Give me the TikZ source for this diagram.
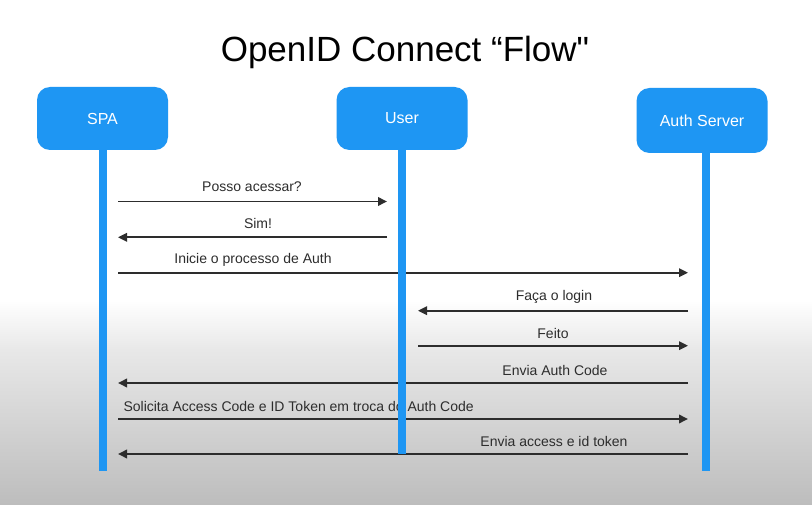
\documentclass[tikz,border=0pt]{standalone}
\usepackage{fontspec}
\setmainfont{Liberation Sans}
\newfontfamily\titlefont{Liberation Sans}
\usetikzlibrary{arrows.meta}
\definecolor{boxblue}{RGB}{30,150,243}
\definecolor{ink}{RGB}{45,45,45}

\begin{document}
\begin{tikzpicture}[x=1pt,y=-1pt,
		actor/.style={fill=boxblue,rounded corners=13pt,minimum width=131pt,minimum height=63pt,text=white,font=\fontsize{16}{18}\selectfont},
		life/.style={draw=boxblue,line width=8pt},
		msg/.style={draw=ink,line width=1.9pt,-{Triangle[length=9pt,width=8.5pt]}},
		lbl/.style={anchor=base,text=ink,font=\fontsize{14}{16}\selectfont}]
		\useasboundingbox (0,0) rectangle (812,505);
		\fill[white] (0,0) rectangle (812,300);
		\shade[top color=white,bottom color=black!9] (0,300) rectangle (812,350);
		\shade[top color=black!9,bottom color=black!26] (0,349.5) rectangle (812,505);

		\node[anchor=base,font=\titlefont\fontsize{35}{40}\selectfont] (title) at (405,62) {OpenID Connect “Flow"};

		\node[actor] (spa) at (102.5,118.5) {SPA};
		\node[actor] (user) at (402,118.5) {User};
		\node[actor,minimum height=65pt] (auth) at (702,120.5) {Auth Server};

		% ends of the lifelines and of the messages
		\coordinate (spaend) at (103,470.5);
		\coordinate (userend) at (402,453.5);
		\coordinate (authend) at (706,471);
		\coordinate (spaR) at (118,0); \coordinate (userL) at (387,0);
		\coordinate (userR) at (418,0); \coordinate (authL) at (688,0);

		\draw[msg] (spaR |- 0,201.5) -- (userL |- 0,201.5);
		\node[lbl] (m1) at (252,192) {Posso acessar?};
		\draw[msg] (userL |- 0,237.3) -- (spaR |- 0,237.3);
		\node[lbl] (m2) at (258,229) {Sim!};
		\draw[msg] (spaR |- 0,272.7) -- (authL |- 0,272.7);
		\node[lbl] (m3) at (253,264) {Inicie o processo de Auth};
		\draw[msg] (authL |- 0,310.7) -- (userR |- 0,310.7);
		\node[lbl] (m4) at (554,301) {Faça o login};
		\draw[msg] (userR |- 0,345.7) -- (authL |- 0,345.7);
		\node[lbl] (m5) at (553,338) {Feito};
		\draw[msg] (authL |- 0,383) -- (spaR |- 0,383);
		\node[lbl] (m6) at (555,375) {Envia Auth Code};
		\draw[msg] (spaR |- 0,419) -- (authL |- 0,419);
		\node[lbl,anchor=base west] (m7) at (120,411) {Solicita Access Code e ID Token em troca do Auth Code};
		\draw[msg] (authL |- 0,454) -- (spaR |- 0,454);
		\node[lbl] (m8) at (554,446) {Envia access e id token};

		\draw[life] (spaend |- spa.south) -- (spaend);
		\draw[life] (userend |- user.south) -- (userend);
		\draw[life] (authend |- auth.south) -- (authend);
\end{tikzpicture}
\end{document}
